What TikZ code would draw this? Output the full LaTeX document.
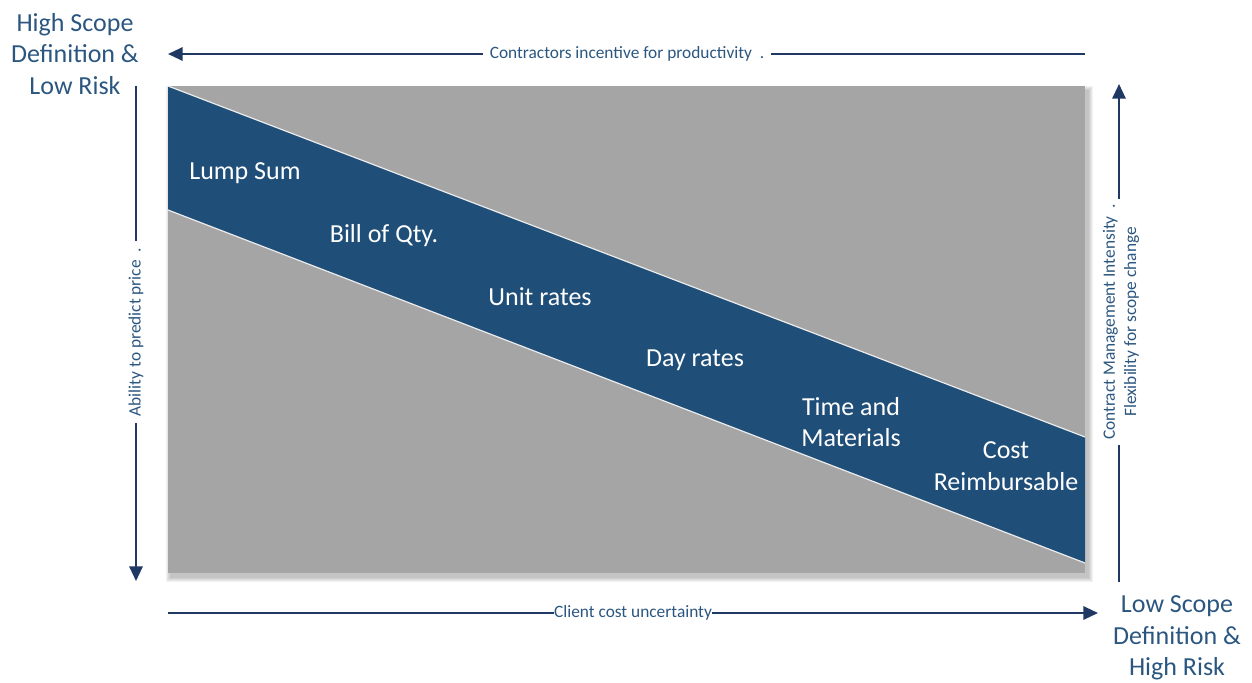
\documentclass[tikz,border=0pt]{standalone}
\usepackage{fontspec}
\setmainfont{Carlito}
\usetikzlibrary{arrows.meta}
\definecolor{bandblue}{HTML}{1F4E79}
\definecolor{panelgray}{HTML}{A5A5A5}
\definecolor{arrowblue}{HTML}{203864}
\definecolor{labelblue}{HTML}{2B5680}
\begin{document}
\begin{tikzpicture}[x=0.75pt,y=-0.75pt,
  axis/.style={draw=arrowblue,line width=1.6pt,-{Triangle[length=11pt,width=10pt]}},
  axisline/.style={draw=arrowblue,line width=1.6pt},
  corner/.style={font=\fontsize{19.5}{23.5}\selectfont,text=labelblue,align=center},
  bandlabel/.style={font=\fontsize{19.5}{23.5}\selectfont,text=white,align=center},
  small/.style={font=\fontsize{13}{16}\selectfont,text=labelblue,align=center,inner ysep=0pt},
  shadowlayer/.style={fill=black,opacity=0.05}]
\useasboundingbox (0,0) rectangle (1252,682);
% soft shadow of the panel
\foreach \d in {0,1,2,3,4}{
  \fill[shadowlayer] (170-\d,90-\d) rectangle (1089+\d,578+\d);
}
% panel
\fill[panelgray] (168,86) rectangle (1085,573);
% band
\fill[bandblue] (168,86) -- (1085,437) -- (1085,563) -- (168,210) -- cycle;
\draw[white!85!gray,line width=0.9pt] (168,86) -- (1085,437);
\draw[white!85!gray,line width=0.9pt] (168,210) -- (1085,563);
% corner labels
\node[corner] (hs) at (75,54) {High Scope\\Definition \&\\Low Risk};
\node[corner] (ls) at (1177,638) {Low Scope\\Definition \&\\High Risk};
% band labels
\node[bandlabel] (lump) at (245,173) {Lump Sum};
\node[bandlabel] (bill) at (384,236) {Bill of Qty.};
\node[bandlabel] (unit) at (540,297) {Unit rates};
\node[bandlabel] (day) at (695,360) {Day rates};
\node[bandlabel] (tm) at (851,422) {Time and\\Materials};
\node[bandlabel] (cr) at (1006,466) {Cost\\Reimbursable};
% top arrow
\coordinate (tr) at (1085,54);
\coordinate (tl) at (168,54);
\node[small,inner xsep=5pt] (tlab) at (627,54) {Contractors incentive for productivity\ \ .};
\draw[axisline] (tr) -- (tlab.east);
\draw[axis] (tlab.west) -- (tl);
% bottom arrow
\coordinate (bl) at (168,613);
\coordinate (br) at (1098,613);
\node[small,inner xsep=0pt] (blab) at (633,613) {Client cost uncertainty};
\draw[axisline] (bl) -- (blab.west);
\draw[axis] (blab.east) -- (br);
% left arrow
\coordinate (lt) at (136,86);
\coordinate (lb) at (136,581);
\node[small,rotate=90,inner xsep=5pt] (llab) at (136,332) {Ability to predict price\ \ .};
\draw[axisline] (lt) -- (llab.east);
\draw[axis] (llab.west) -- (lb);
% right arrow
\coordinate (rb) at (1119,582);
\coordinate (rt) at (1119,84);
\node[small,rotate=90,inner xsep=4pt,font=\fontsize{13}{16}\selectfont] (rlab) at (1121,322) {Contract Management Intensity\ \ .\\Flexibility for scope change};
\draw[axisline] (rb) -- (rb |- rlab.west);
\draw[axis] (rt |- rlab.east) -- (rt);
\end{tikzpicture}
\end{document}
